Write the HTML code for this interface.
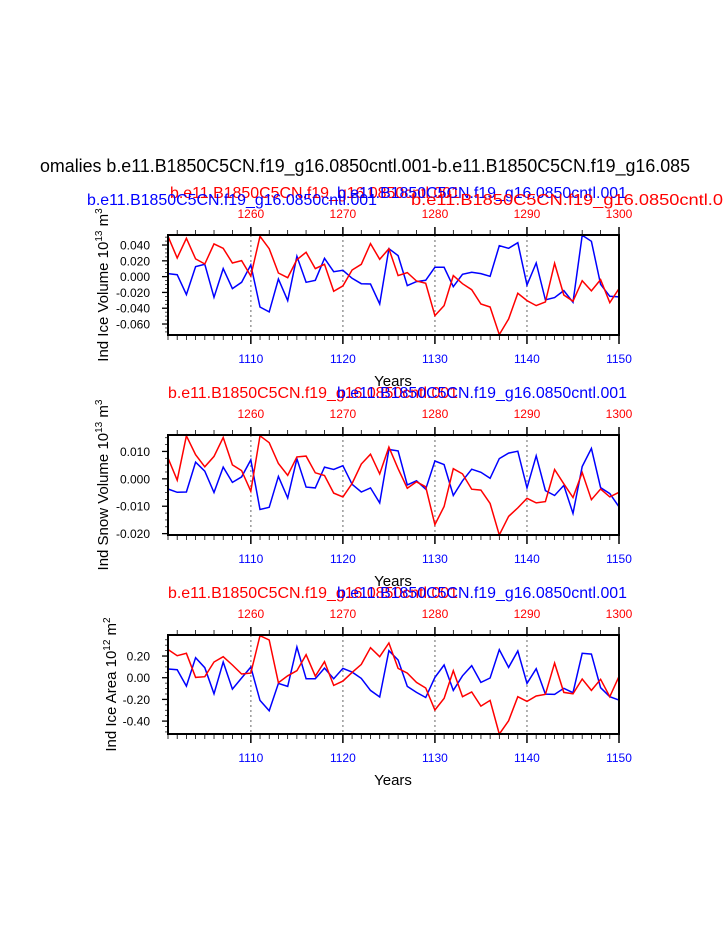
<!DOCTYPE html>
<html><head><meta charset="utf-8"><style>
html,body{margin:0;padding:0;background:#fff;width:723px;height:935px;overflow:hidden}
svg{display:block;font-family:"Liberation Sans",Arial,sans-serif}
</style></head><body>
<svg id="chart" width="723" height="935" viewBox="0 0 723 935" xmlns="http://www.w3.org/2000/svg">
<text x="40" y="172" font-size="18" textLength="650" lengthAdjust="spacingAndGlyphs">omalies b.e11.B1850C5CN.f19_g16.0850cntl.001-b.e11.B1850C5CN.f19_g16.085</text>
</svg>
<script>
const years = Array.from({length:50},(_,i)=>1101+i);
const topYears = [1260,1270,1280,1290,1300];
const bottomTicks = [1110,1120,1130,1140,1150];
// Panel 1: Ice volume (x1e-3)
const iceVolBlue = [3.8,2.5,-22.8,12.7,15.6,-26.2,10.1,-15.2,-7.2,14.8,-38.4,-44.7,-3.0,-30.4,25.7,-7.2,-4.6,23.2,6.3,8.0,-2.1,-8.9,-9.3,-34.6,35.4,26.6,-11.4,-6.3,-4.6,11.8,11.8,-12.7,3.0,5.5,3.8,0.4,39.2,35.9,43.0,-10.6,17.3,-29.5,-26.6,-17.7,-32.5,52.3,44.7,-9.7,-24.9,-25.7];
const iceVolRed = [51.1,23.6,48.5,22.4,16.0,41.4,35.9,17.3,20.3,0.8,51.1,35.4,4.6,-1.3,21.5,30.8,10.1,15.6,-18.6,-11.8,8.4,15.6,41.8,21.9,35.4,1.3,5.1,-5.5,-8.4,-49.4,-36.7,1.3,-8.9,-16.5,-34.6,-38.4,-73.4,-53.6,-21.1,-30.4,-36.7,-32.1,16.9,-23.2,-31.2,-5.1,-18.1,-3.8,-32.9,-15.2];
const iceVolTicks = ["0.040","0.020","0.000","-0.020","-0.040","-0.060"];
// Panel 2: Snow volume (x1e-3)
const snowVolBlue = [-3.7,-4.9,-4.8,6.1,2.8,-5.0,4.3,-1.3,0.7,6.9,-11.2,-10.4,0.9,-7.0,7.3,-3.0,-3.3,4.3,3.4,4.8,-2.0,-4.8,-3.3,-8.8,10.7,10.2,-2.2,-0.7,-3.8,6.5,5.2,-6.1,-0.7,3.5,2.4,0.2,7.4,9.4,10.1,-3.3,8.4,-4.3,-6.1,-2.4,-12.6,4.5,11.1,-3.2,-5.4,-10.2];
const snowVolRed = [7.6,-0.5,15.7,8.8,4.4,8.2,15.1,5.1,3.0,-4.5,15.7,13.2,5.6,1.3,8.0,8.3,2.2,1.2,-5.2,-6.6,-1.7,5.4,9.0,1.8,11.6,3.7,-3.4,-1.1,-2.9,-16.7,-10.1,3.7,1.8,-3.8,-4.1,-9.0,-20.5,-13.7,-10.6,-7.1,-8.8,-8.3,3.4,-1.8,-6.8,2.3,-7.6,-3.7,-6.6,-4.9];
const snowVolTicks = ["0.010","0.000","-0.010","-0.020"];
// Panel 3: Ice area (x1e-2)
const iceAreaBlue = [8.0,7.4,-7.7,18.5,9.2,-14.8,14.5,-10.5,-0.3,9.8,-20.9,-30.5,-5.2,-8.0,28.3,-0.9,-0.9,8.9,-0.9,8.6,5.2,-0.6,-11.7,-17.8,24.9,16.3,-8.0,-13.5,-18.2,0.3,11.7,-11.7,1.8,11.1,-4.3,-0.3,25.8,9.5,24.6,-5.2,8.3,-15.1,-15.4,-9.8,-13.8,22.5,21.8,-9.2,-17.5,-20.6];
const iceAreaRed = [26.0,20.3,22.5,0.3,0.9,14.5,19.4,11.7,3.4,4.3,38.8,34.8,-4.6,1.8,6.5,21.2,1.5,14.8,-7.1,-3.1,4.9,12.3,27.7,19.4,32.0,8.6,4.3,-4.3,-9.5,-29.8,-19.1,6.5,-17.5,-13.2,-26.2,-20.9,-52.0,-39.7,-17.5,-21.8,-16.9,-15.4,13.5,-13.5,-14.8,-1.2,-11.7,-1.5,-17.5,1.2];
const iceAreaTicks = ["0.20","0.00","-0.20","-0.40"];

const svg = document.getElementById('chart');
const NS = 'http://www.w3.org/2000/svg';
function mk(tag, attrs, parent){const e=document.createElementNS(NS,tag);for(const k in attrs)e.setAttribute(k,attrs[k]);(parent||svg).appendChild(e);return e;}
const X0=168, X1=619;
const xs = y => X0 + (y-1101)*(X1-X0)/49;

const panels = [
 {key:'ice-volume', top:235, bot:335, vmin:-0.0739, vmax:0.0527, scale:1e-3, blue:iceVolBlue, red:iceVolRed, ticks:iceVolTicks, minor:0.005, ylab:['Ind Ice Volume 10','13',' m','3'], ylx:103, sub:[ [170,192,'red'],[337,192,'blue'],[87,199,'blue'],[411,199,'red'] ]},
 {key:'snow-volume', top:435, bot:535, vmin:-0.0205, vmax:0.016, scale:1e-3, blue:snowVolBlue, red:snowVolRed, ticks:snowVolTicks, minor:0.0025, ylab:['Ind Snow Volume 10','13',' m','3'], ylx:103, sub:[[168,392,'red'],[337,392,'blue']]},
 {key:'ice-area', top:635, bot:734, vmin:-0.519, vmax:0.394, scale:1e-2, blue:iceAreaBlue, red:iceAreaRed, ticks:iceAreaTicks, minor:0.05, ylab:['Ind Ice Area 10','12',' m','2'], ylx:111, sub:[[168,592,'red'],[337,592,'blue']]}
];
const runName='b.e11.B1850C5CN.f19_g16.0850cntl.001';

panels.forEach(p=>{
  const g = mk('g',{});
  
  
  const ys = v => p.bot - (v - p.vmin)*(p.bot-p.top)/(p.vmax-p.vmin);
  // subtitles
  p.sub.forEach(s=>{
    const t = mk('text',{x:s[0],y:s[1]+6,'font-size':16,fill:s[2]==='red'?'#f00':'#00f',textLength:290,lengthAdjust:'spacingAndGlyphs'},g);
    t.textContent = s[0]===411 ? 'b.e11.B1850C5CN.f19_g16.0850cntl.0' : runName;
    if(s[0]===411) t.setAttribute('textLength', 312);
    
    
  });
  // gridlines
  [1110,1120,1130,1140].forEach(yr=>{
    const l = mk('line',{x1:xs(yr),x2:xs(yr),y1:p.top,y2:p.bot,stroke:'#999','stroke-width':1.5,'stroke-dasharray':'2,3'},g);
    
    
  });
  // ticks x
  for(let yr=1101; yr<=1150; yr++){
    const major = (yr%10===0);
    if(yr%2===0 || major){
      mk('line',{x1:xs(yr),x2:xs(yr),y1:p.top,y2:p.top-(major?8:5),stroke:'#000','stroke-width':major?1.5:0.8},g);
    }
    mk('line',{x1:xs(yr),x2:xs(yr),y1:p.bot,y2:p.bot+(major?9:5),stroke:'#000','stroke-width':major?1.5:0.8},g);
  }
  topYears.forEach((yr,i)=>{
    const t = mk('text',{x:xs(bottomTicks[i]),y:p.top-17,'font-size':12,fill:'#f00','text-anchor':'middle'},g);
    t.textContent = yr;
    
    
  });
  bottomTicks.forEach(yr=>{
    const t = mk('text',{x:xs(yr),y:p.bot+28,'font-size':12,fill:'#00f','text-anchor':'middle'},g);
    t.textContent = yr;
    
    
  });
  const xt = mk('text',{x:393,y:p.bot+51,'font-size':15,'text-anchor':'middle'},g);
  xt.textContent='Years';
  
  
  // y ticks
  p.ticks.forEach(s=>{
    const v = parseFloat(s);
    const y = ys(v);
    mk('line',{x1:X0,x2:X0-6,y1:y,y2:y,stroke:'#000','stroke-width':1.3},g);
    const t = mk('text',{x:150,y:y+4.5,'font-size':12,'text-anchor':'end'},g);
    t.textContent = s;
    
    
  });
  const step = p.minor;
  for(let v=Math.ceil(p.vmin/step)*step; v<=p.vmax; v+=step){
    mk('line',{x1:X0,x2:X0-3,y1:ys(v),y2:ys(v),stroke:'#000','stroke-width':0.7},g);
  }
  // y label
  const mid=(p.top+p.bot)/2;
  const yl = mk('text',{x:0,y:0,'font-size':15,'text-anchor':'middle',transform:`translate(${p.ylx+5},${mid}) rotate(-90)`},g);
  yl.innerHTML = `${p.ylab[0]}<tspan dy="-6" font-size="10">${p.ylab[1]}</tspan><tspan dy="6">${p.ylab[2]}</tspan><tspan dy="-6" font-size="10">${p.ylab[3]}</tspan>`;
  
  
  // series
  [['blue','#00f',p.blue],['red','#f00',p.red]].forEach(([n,c,arr])=>{
    const d = arr.map((v,i)=>(i?'L':'M')+xs(years[i]).toFixed(1)+','+ys(v*p.scale).toFixed(1)).join('');
    const path = mk('path',{d:d,fill:'none',stroke:c,'stroke-width':1.5},g);
    
    
  });
  const frame = mk('rect',{x:X0,y:p.top,width:X1-X0,height:p.bot-p.top,fill:'none',stroke:'#000','stroke-width':2},g);
  
  
});
</script>
</body></html>
